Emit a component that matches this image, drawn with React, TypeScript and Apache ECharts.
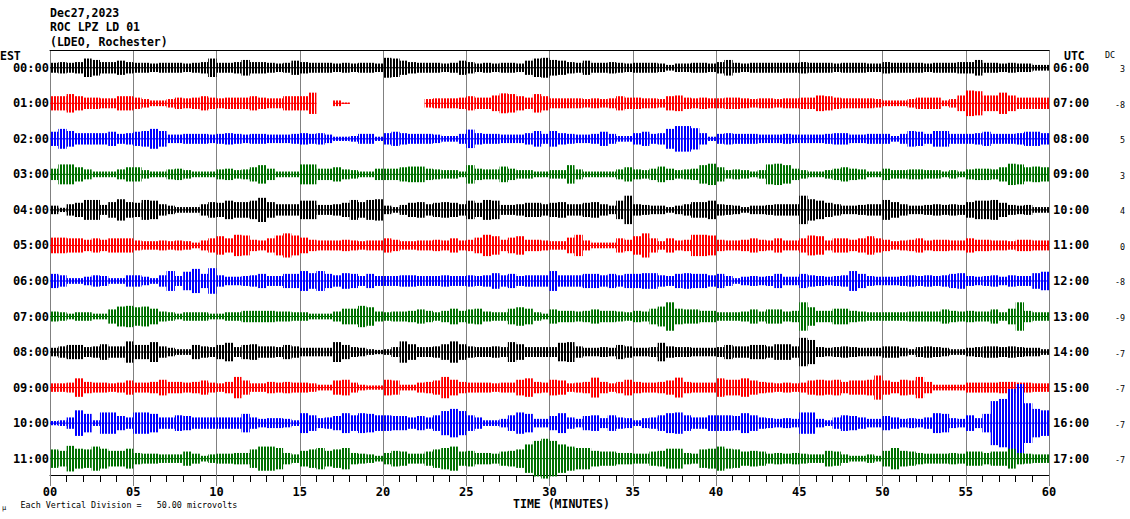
import React, { useEffect, useRef } from "react";
import * as echarts from "echarts";

const MONO = '"DejaVu Sans Mono", "Liberation Mono", monospace';

const STATION_TITLE = ["Dec27,2023", "ROC LPZ LD 01", "(LDEO, Rochester)"];
const EST_HOURS = ["00:00", "01:00", "02:00", "03:00", "04:00", "05:00", "06:00", "07:00", "08:00", "09:00", "10:00", "11:00"];
const UTC_HOURS = ["06:00", "07:00", "08:00", "09:00", "10:00", "11:00", "12:00", "13:00", "14:00", "15:00", "16:00", "17:00"];
const DC_OFFSETS = ["3", "-8", "5", "3", "4", "0", "-8", "-9", "-7", "-7", "-7", "-7"];
const TRACE_COLORS = ["#000000", "#ff0000", "#0000ff", "#007000"];
const X_AXIS_NAME = "TIME (MINUTES)";
const SCALE_NOTE = "Each Vertical Division =   50.00 microvolts";
const DIVISION_UV = 50; // microvolts per row spacing
const SAMPLE_MINUTES = 0.5; // each amplitude value covers half a minute

// Peak amplitude (microvolts) of each trace, per half minute, 0..60 min
const ROW_00 = [7,8,7,8,13,11,8,8,10,8, 7,7,6,7,7,7,6,7,8,13, 7,7,8,11,8,8,7,6,7,10, 8,7,7,7,6,7,6,7,7,6, 14,13,10,8,7,7,7,6,7,10, 8,6,7,6,7,7,6,10,13,14, 11,10,8,7,10,7,7,8,7,6, 7,7,7,6,4,6,6,7,7,6, 8,11,7,6,7,7,7,7,7,7, 8,7,7,7,6,7,7,7,6,6, 8,7,7,7,7,6,7,7,7,8, 8,11,7,7,6,7,6,6,4,4];
const ROW_01 = [10,10,13,10,8,8,7,7,10,10, 8,6,4,4,6,8,7,8,10,8, 7,8,8,8,10,8,7,7,10,10, 10,15,null,null,4,1,null,null,null,null, null,null,null,null,null,6,7,7,7,8, 10,8,8,11,14,13,10,8,13,10, 7,7,7,7,6,7,6,7,10,8, 8,7,7,6,10,11,8,7,8,7, 7,8,8,7,6,7,7,6,7,7, 8,8,11,10,8,7,7,7,7,6, 4,4,4,6,8,8,8,4,6,11, 18,17,11,11,15,11,8,8,8,8];
const ROW_02 = [10,14,11,8,8,8,8,10,7,8, 10,11,14,11,6,6,7,7,7,6, 7,8,7,6,7,7,6,6,6,7, 8,7,8,6,3,3,4,7,7,3, 8,10,8,7,7,7,6,4,4,7, 13,8,7,7,6,6,6,8,11,7, 11,8,7,6,6,7,10,7,4,4, 8,10,7,8,14,18,18,15,8,3, 7,8,7,7,7,6,6,6,7,6, 6,6,6,7,8,8,6,6,7,7, 7,4,7,11,10,7,11,11,7,7, 7,8,10,7,7,7,8,10,10,8];
const ROW_03 = [8,14,14,10,7,4,4,4,7,10, 10,6,4,4,7,8,6,4,4,4, 7,8,6,7,10,13,8,4,4,4, 14,14,8,8,10,7,6,4,4,8, 8,8,10,11,11,8,7,6,6,4, 13,8,7,7,11,8,6,6,4,4, 6,6,13,7,4,4,4,4,7,10, 7,6,8,11,8,6,7,8,13,15, 10,6,7,6,4,6,14,15,13,8, 6,4,4,6,8,10,8,7,4,4, 8,6,6,7,7,6,6,4,6,4, 7,8,8,7,10,15,14,10,11,10];
const ROW_04 = [6,3,8,10,14,14,7,11,15,11, 10,14,13,8,6,4,4,4,8,11, 10,13,11,11,13,17,11,8,8,8, 13,13,7,7,8,10,14,11,14,15, 6,4,7,10,11,8,10,11,10,8, 13,10,14,13,7,7,8,10,10,8, 10,11,8,8,10,11,8,6,13,20, 8,7,6,6,4,6,8,11,11,13, 8,7,6,4,6,6,7,8,8,8, 20,15,13,10,8,6,6,7,8,8, 14,11,8,6,6,7,8,7,8,7, 11,13,13,14,10,7,6,7,4,4];
const ROW_05 = [11,11,10,10,8,10,8,10,10,10, 7,6,6,7,6,7,6,4,7,10, 13,10,15,14,8,7,10,14,17,14, 11,8,7,7,7,8,7,6,7,7, 10,8,6,6,7,7,8,7,10,7, 8,11,15,13,8,11,13,8,8,7, 6,6,11,15,7,4,4,4,10,8, 13,17,10,6,10,7,8,15,15,14, 8,7,7,8,10,8,7,10,7,7, 10,14,13,7,10,10,8,10,13,10, 8,6,7,8,10,7,8,8,7,7, 10,8,8,7,7,6,8,8,7,7];
const ROW_06 = [10,8,4,4,6,8,7,4,4,8, 8,6,4,8,14,7,13,17,10,18, 8,6,6,7,8,10,7,7,10,10, 14,11,14,10,8,11,10,7,10,7, 7,7,8,8,7,7,7,8,7,7, 8,7,8,11,8,10,7,8,8,8, 14,8,8,8,10,10,8,10,8,10, 10,11,11,8,7,10,11,10,10,8, 10,7,4,6,7,6,7,10,6,6, 10,8,7,6,7,8,14,10,7,6, 6,6,7,8,7,8,7,8,10,11, 7,6,7,8,6,8,7,7,11,13];
const ROW_07 = [7,6,4,6,6,4,4,10,14,15, 13,14,11,7,6,4,6,6,6,4, 4,6,6,8,8,8,8,7,7,6, 6,4,4,4,7,11,11,15,13,7, 6,7,7,8,10,8,6,8,11,8, 10,11,7,6,6,11,13,11,6,4, 10,8,8,7,8,10,8,8,7,6, 8,7,11,14,20,11,10,10,8,8, 6,6,6,7,10,7,10,10,7,8, 20,13,8,8,11,11,8,7,6,6, 6,6,6,7,7,7,7,10,8,7, 8,7,7,10,6,11,20,8,6,6];
const ROW_08 = [6,8,10,10,7,8,11,8,8,15, 10,10,14,8,6,4,4,10,8,7, 10,13,7,10,11,8,8,7,10,8, 6,6,6,6,14,10,7,6,4,3, 4,7,15,11,7,7,8,11,15,11, 8,7,7,8,7,14,11,7,7,7, 7,13,14,8,6,6,7,6,10,8, 6,6,7,13,8,7,7,6,6,6, 7,10,8,8,10,10,8,11,11,8, 20,17,7,6,7,8,7,6,6,6, 8,8,6,4,7,8,7,6,4,4, 6,7,8,8,7,8,7,6,6,4];
const ROW_09 = [6,6,7,13,8,7,7,6,7,10, 7,7,8,11,8,8,7,8,10,7, 6,8,15,10,6,6,8,7,8,7, 7,6,4,4,10,11,7,4,3,3, 11,10,4,4,7,8,10,15,11,8, 7,7,7,6,7,7,11,13,8,7, 11,10,6,7,8,14,8,6,8,11, 8,7,7,8,10,14,8,7,7,7, 13,11,11,13,10,8,7,6,7,6, 7,10,11,10,11,8,10,10,11,17, 10,8,11,10,15,8,4,4,4,4, 7,7,7,7,8,8,7,7,6,6];
const ROW_10 = [3,4,8,18,13,4,15,15,10,8, 15,15,13,8,8,11,10,8,8,8, 8,8,8,13,8,6,7,7,6,4, 14,11,7,8,10,14,11,14,13,11, 11,10,10,8,10,8,11,17,20,17, 11,8,4,4,6,11,15,13,6,6, 10,14,8,6,10,11,7,11,8,7, 4,7,8,11,14,15,11,8,8,11, 11,11,10,14,11,8,7,6,7,6, 15,15,6,4,8,11,10,8,6,6, 10,8,6,7,6,8,14,13,7,6, 11,7,13,31,34,48,55,28,20,18];
const ROW_11 = [13,11,18,14,13,17,14,11,11,14, 8,7,7,6,6,6,10,7,4,6, 7,7,8,8,13,17,17,15,8,6, 11,13,15,11,13,15,8,7,6,4, 8,11,10,7,7,10,13,15,17,10, 11,8,8,7,10,11,13,20,25,28, 25,20,17,15,15,11,10,10,8,8, 7,7,10,11,14,14,8,7,13,14, 17,14,13,10,11,10,7,8,7,8, 7,6,6,11,10,6,4,4,6,4, 11,15,11,10,8,7,7,7,8,7, 10,10,8,10,10,14,8,7,6,6];

const TRACES: (number | null)[][] = [ROW_00, ROW_01, ROW_02, ROW_03, ROW_04, ROW_05, ROW_06, ROW_07, ROW_08, ROW_09, ROW_10, ROW_11];

const Y_MAX = 25;
const Y_MIN = -573;

function stripePattern(color: string): any {
  const c = document.createElement("canvas");
  c.width = 3;
  c.height = 1;
  const ctx = c.getContext("2d")!;
  ctx.fillStyle = color;
  ctx.fillRect(0, 0, 2, 1);
  return { image: c.toDataURL(), repeat: "repeat", imageWidth: 3, imageHeight: 1 };
}

export default function App() {
  const ref = useRef<HTMLDivElement>(null);

  useEffect(() => {
    document.body.style.margin = "0";
    const chart = echarts.init(ref.current!, null, { renderer: "svg" });

    const series = TRACES.map((amps, r) => {
      const base = -r * DIVISION_UV;
      const color = TRACE_COLORS[r % TRACE_COLORS.length];
      const fill = stripePattern(color);
      const data: number[][] = [];
      amps.forEach((a, i) => {
        if (a != null) data.push([i * SAMPLE_MINUTES, a]);
      });
      return {
        type: "custom",
        name: EST_HOURS[r],
        silent: true,
        z: 3,
        data,
        renderItem: (_p: any, api: any) => {
          const t = api.value(0) as number;
          const a = api.value(1) as number;
          const top = api.coord([t, base + a]);
          const bot = api.coord([t + SAMPLE_MINUTES, base - a]);
          const mid = api.coord([t, base]);
          return {
            type: "group",
            children: [
              {
                type: "rect",
                shape: { x: top[0], y: top[1], width: bot[0] - top[0], height: Math.max(1, bot[1] - top[1]) },
                style: { fill },
              },
              {
                type: "rect",
                shape: { x: top[0], y: mid[1] - 0.5, width: bot[0] - top[0], height: 1 },
                style: { fill: color },
              },
            ],
          };
        },
      };
    });

    const option: any = {
      animation: false,
      grid: { left: 50, right: 81, top: 50, bottom: 44 },
      xAxis: [
        {
          type: "value",
          min: 0,
          max: 60,
          interval: 5,
          position: "bottom",
          axisLine: { show: true, onZero: false, lineStyle: { color: "#000", width: 1 } },
          axisTick: { show: true, length: 11, lineStyle: { color: "#808080", width: 1 } },
          minorTick: { show: true, splitNumber: 5, length: 7, lineStyle: { color: "#000", width: 1 } },
          axisLabel: {
            margin: 12,
            color: "#000",
            fontFamily: MONO,
            fontWeight: "bold",
            fontSize: 12,
            lineHeight: 10,
            formatter: (v: number) => String(v).padStart(2, "0"),
          },
          splitLine: { show: true, lineStyle: { color: "#808080", width: 1 } },
        },
        {
          type: "value",
          min: 0,
          max: 60,
          position: "top",
          axisLine: { show: true, onZero: false, lineStyle: { color: "#000", width: 1 } },
          axisTick: { show: false },
          axisLabel: { show: false },
          splitLine: { show: false },
        },
      ],
      yAxis: { type: "value", min: Y_MIN, max: Y_MAX, show: false },
      series,
    };
    chart.setOption(option);

    const rowY = TRACES.map((_, r) => chart.convertToPixel({ yAxisIndex: 0 }, -r * DIVISION_UV) as number);
    const bold = { fontFamily: MONO, fontWeight: "bold", fill: "#000" };
    const graphics: any[] = [];
    STATION_TITLE.forEach((t, i) => {
      graphics.push({
        type: "text",
        x: 50,
        y: [13, 27, 41.5][i],
        style: { ...bold, text: t, fontSize: 11.5, align: "left", verticalAlign: "middle" },
      });
    });
    graphics.push({ type: "text", x: 0, y: 55.5, style: { ...bold, text: "EST", fontSize: 11.5, align: "left", verticalAlign: "middle" } });
    graphics.push({ type: "text", x: 1064, y: 56, style: { ...bold, text: "UTC", fontSize: 11.5, align: "left", verticalAlign: "middle" } });
    graphics.push({ type: "text", x: 1110, y: 54.5, style: { fontFamily: MONO, fill: "#000", text: "DC", fontSize: 8.4, align: "center", verticalAlign: "middle" } });
    rowY.forEach((y, r) => {
      graphics.push({ type: "text", x: 49, y, style: { ...bold, text: EST_HOURS[r], fontSize: 12, align: "right", verticalAlign: "middle" } });
      graphics.push({ type: "text", x: 1053, y, style: { ...bold, text: UTC_HOURS[r], fontSize: 12, align: "left", verticalAlign: "middle" } });
      graphics.push({ type: "text", x: 1125, y: y + 1.5, style: { fontFamily: MONO, fill: "#000", text: DC_OFFSETS[r], fontSize: 8.4, align: "right", verticalAlign: "middle" } });
    });
    graphics.push({ type: "text", x: 561.5, y: 504, style: { ...bold, text: X_AXIS_NAME, fontSize: 11.5, lineHeight: 9, align: "center", verticalAlign: "middle" } });
    graphics.push({ type: "text", x: 20.5, y: 505, style: { fontFamily: MONO, fill: "#000", text: SCALE_NOTE, fontSize: 8.4, align: "left", verticalAlign: "middle" } });
    graphics.push({ type: "text", x: 2, y: 508, style: { fontFamily: MONO, fill: "#000", text: "µ", fontSize: 7, align: "left", verticalAlign: "middle" } });
    chart.setOption({ graphic: graphics });

    return () => chart.dispose();
  }, []);

  return <div ref={ref} style={{ width: 1130, height: 519 }} />;
}
